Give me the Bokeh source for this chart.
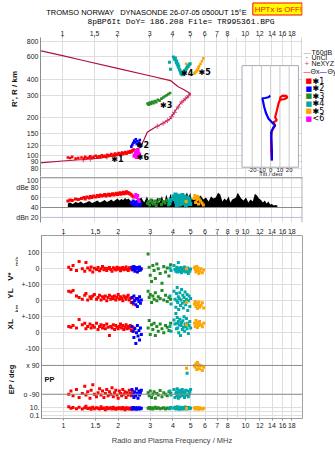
import math
from bokeh.plotting import figure
from bokeh.models import (Range1d, LogScale, LinearScale, FixedTicker, LogAxis, Label, Span)
from bokeh.layouts import column, row
from bokeh.embed import file_html
from bokeh.resources import INLINE
from bokeh.core.properties import value

# ---------------- ticks ----------------
freq_ticks_outer = [1, 1.5, 2, 3, 4, 5, 6, 7, 8, 10, 12, 14, 16, 18]
freq_ticks_inner = [1, 1.5, 2, 3, 4, 5, 6, 7, 8, 9, 10, 12, 14, 16, 18]
height_ticks = [80, 90, 100, 120, 150, 200, 300, 400, 600, 800]
amp_ticks = [20, 40, 60, 80, 100]
amp_labels = ["dBn 20", "40", "60", "dBe 80", "100"]
tilt_ticks = [-20, -10, 0, 10, 20]
vel_ticks = [100, 0, -100]
vel_labels = ["100", "0", "+-100"]
yl_ticks = [0, -100]
yl_labels = ["0", "+-100"]
xl_ticks = [0, -100]
xl_labels = ["0", "-100"]
pp_ticks = [90, -90]
pp_labels = ["x 90", "o -90"]
ep_ticks = [10, 1, 0.1]
ep_labels = ["10.", "", "0.1"]

# ---------------- electron density profile ----------------
profile_f = [0.75, 1.0, 1.3, 1.6, 2.0, 2.46, 2.67, 2.8, 2.91, 3.15, 3.57, 3.9, 4.15, 4.42, 4.81, 5.02,
             4.85, 4.6, 4.3, 3.9, 3.0, 2.0, 1.3, 1.0, 0.75]
profile_h = [88, 91, 93.5, 96, 101, 110, 117, 135, 153, 165, 181, 197, 227, 258, 289, 308,
             318, 333, 350, 391, 427, 488, 563, 614, 673]
nexyz_f = [1.3, 1.42, 1.75, 2.1, 2.4, 3.3, 3.55, 3.75, 3.95, 4.1, 4.3, 4.5, 4.7, 4.9]
nexyz_h = [93, 94.5, 98, 103, 109, 171, 180, 189, 203, 220, 242, 265, 281, 297]

# ---------------- tilt inset ----------------
tiltx_h = [92, 110, 140, 158, 173, 184, 190, 201, 227, 257, 275, 290, 298, 296, 288, 280, 276]
tiltx_deg = [1.3, 0.5, 0.5, 1.3, 4.8, 3.0, 6.7, 4.8, 6.7, 8.4, 10, 10.5, 13, 17, 18, 15, 11]
tilty_h = [92, 110, 153, 168, 173, 184, 196, 214, 242, 272, 283, 285, 289, 298]
tilty_deg = [1.3, 1.3, 0.5, 3.0, 4.8, 1.3, -2.3, -4.8, -7.0, -8.4, -9.0, -6.0, -2.3, -0.5]

# ---------------- echo series ----------------
red_f = [1.07, 1.10, 1.13, 1.18, 1.22, 1.27, 1.31, 1.33, 1.36, 1.40, 1.42, 1.45, 1.48, 1.52, 1.55,
         1.58, 1.61, 1.64, 1.67, 1.70, 1.73, 1.76, 1.79, 1.82, 1.85, 1.88, 1.91, 1.94, 1.97, 2.00,
         2.03, 2.06, 2.09, 2.12, 2.15, 2.18, 2.21, 2.24, 2.27, 2.30, 2.33, 2.36, 2.39, 2.42, 2.45]
red_h = [97, 96, 98, 95, 96, 97, 95, 98, 96, 97, 99, 96, 98, 100, 97, 99, 98, 101, 99, 100, 98, 102,
         100, 101, 103, 100, 102, 104, 101, 103, 105, 102, 104, 106, 103, 105, 107, 104, 106, 108,
         106, 109, 107, 110, 112]
red_amp = [53, 55, 54, 57, 56, 58, 60, 57, 61, 59, 62, 60, 63, 61, 64, 62, 65, 63, 64, 66, 63, 65,
           67, 64, 66, 68, 65, 67, 69, 66, 68, 70, 67, 69, 71, 68, 70, 72, 69, 70, 68, 67, 65, 63, 61]
red_v = [10, -5, 20, -10, 45, 0, -15, 40, 5, -8, 12, -20, 3, -5, 8, -12, 0, 15, -6, 4, -10, 2, 8,
         -4, -15, 6, 0, -8, 10, -3, 5, -12, 2, 8, -6, 0, 12, -4, -10, 6, -2, 4, -8, 10, 0]
red_yl = [60, 55, 64, 30, 20, 10, 35, 45, 5, 25, 15, 30, 40, 10, 20, 35, 5, 25, 15, 30, 0, 20, 35,
          10, 25, 15, 30, 5, 20, 40, 10, 25, 15, 0, 30, 20, 10, 25, 35, 5, 15, -10, 20, -20, 5]
red_xl = [40, 35, 45, 30, 83, 50, 60, 25, 40, 55, 30, 45, 35, 60, 20, 40, 50, 30, 45, 25, 55, 35,
          -17, 40, 30, 50, 20, 45, 35, 25, 40, 55, 30, 45, 20, 35, 50, 25, 40, 30, 45, 15, 35, 10, 30]
red_pp = [-90, -70, -100, -60, -110, -85, -40, -95, -75, -115, -65, -30, -90, -105, -80, -55, -95,
          -70, -110, -85, -60, -100, -75, -90, -50, -105, -80, -65, -95, -115, -70, -85, -100, -60,
          -90, -75, -110, -80, -95, -65, -85, -100, -70, -90, -80]
red_ep = [20, 8, 12, 6, 15, 5, 10, 25, 7, 9, 4, 14, 6, 11, 8, 5, 18, 7, 9, 3, 12, 6, 8, 10, 5, 15,
          7, 4, 9, 6, 11, 8, 5, 13, 7, 3, 10, 6, 9, 5, 8, 4, 12, 6, 7]

blue_f = [2.38, 2.41, 2.44, 2.47, 2.50, 2.52, 2.55, 2.57, 2.60, 2.62, 2.65, 2.68]
blue_h = [118, 122, 126, 131, 128, 135, 124, 130, 121, 127, 133, 119]
blue_amp = [50, 47, 53, 45, 51, 48, 44, 52, 46, 49, 45, 47]
blue_v = [10, -5, 15, -15, 0, 8, -20, 5, -10, 12, -8, 0]
blue_yl = [20, -10, 30, 0, -25, 15, -36, 10, -5, 25, -15, 5]
blue_xl = [40, 10, -30, 25, -67, 0, 45, -20, 15, -45, 30, -10]
blue_pp = [-60, -90, -110, -75, -100, -55, -85, -115, -70, -95, -80, -65]
blue_ep = [8, 5, 12, 6, 9, 4, 10, 7, 5, 11, 6, 8]

magenta_f = [2.48, 2.52, 2.55, 2.58, 2.60, 2.63]
magenta_h = [100, 106, 98, 110, 104, 102]
magenta_amp = [62, 66, 60, 64, 56, 52]

green_f = [2.92, 2.96, 3.0, 3.05, 3.1, 3.15, 3.2, 3.26, 3.32, 3.4, 3.48, 3.56, 3.64, 3.72, 3.8, 3.88]
green_h = [258, 252, 262, 256, 266, 260, 270, 264, 276, 272, 282, 288, 294, 300, 306, 312]
green_amp = [48, 52, 45, 55, 50, 47, 53, 44, 51, 56, 46, 52, 49, 54, 45, 50]
green_v = [93, 10, -40, -80, 20, -10, -60, 30, 0, -30, -90, 15, -20, 5, -45, 25]
green_yl = [60, 20, 40, -10, 30, 10, 50, 0, 25, 15, 64, 5, 35, -5, 20, 10]
green_xl = [30, 77, -10, 50, 20, 60, -17, 40, 10, 55, 25, 0, 45, 35, 15, 60]
green_pp = [-80, -100, -70, -110, -90, -75, -115, -85, -95, -67, -105, -80, -90, -100, -75, -85]
green_ep = [8, 12, 6, 10, 5, 9, 14, 7, 11, 6, 8, 10, 5, 9, 7, 12]

teal_f = [3.85, 3.9, 4.05, 4.1, 4.15, 4.18, 4.2, 4.22, 4.25, 4.28, 4.3, 4.33, 4.36, 4.4, 4.43,
          4.46, 4.5, 4.53, 4.56, 4.6, 4.63, 4.66, 4.7, 4.74, 4.78, 4.82, 4.86, 4.9, 4.95, 5.0]
teal_h = [545, 480, 600, 575, 590, 560, 540, 555, 520, 530, 500, 510, 480, 470, 455, 440, 450,
          435, 445, 460, 450, 470, 465, 480, 490, 500, 505, 515, 525, 530]
teal_amp = [48, 55, 62, 58, 66, 52, 60, 45, 64, 57, 50, 63, 55, 46, 61, 58, 53, 65, 48, 59, 62,
            51, 56, 44, 60, 54, 49, 58, 52, 47]
teal_v = [5, -10, 20, -5, -15, 0, 10, -20, -8, 40, -12, 3, -18, -5, 8, -25, -10, 2, -15, -3, 12,
          -8, -20, 0, -12, 5, -30, -6, -16, -2]
teal_yl = [30, -20, 60, 10, -40, 45, 0, 83, -10, 25, -55, 15, 50, -30, 5, 70, -15, 35, -45, 20,
           -5, 55, -25, 10, 40, -60, 0, 30, -35, 15]
teal_xl = [40, 10, 80, 55, 120, 25, 60, 95, 30, 70, 0, 50, 85, -17, 45, 65, 20, 75, 35, 100, 10,
           55, 40, 90, 25, 60, -5, 45, 70, 30]
teal_pp = [-70, -95, -60, -110, -85, -75, -100, -55, -90, -115, -80, -65, -105, -70, -95, -85,
           -60, -100, -75, -90, -110, -80, -65, -95, 41, -70, -105, -90, -75, -60]
teal_ep = [6, 10, 8, 15, 5, 12, 7, 20, 9, 6, 11, 4, 8, 14, 6, 9, 5, 12, 7, 10, 6, 16, 8, 5, 11,
           7, 13, 6, 9, 8]

orange_f = [4.75, 5.25, 5.3, 5.35, 5.4, 5.45, 5.5, 5.55, 5.6, 5.7, 5.8, 5.9]
orange_h = [530, 445, 450, 455, 462, 470, 480, 495, 510, 530, 555, 585]
orange_amp = [52, 58, 64, 50, 60, 55, 62, 47, 57, 53, 49, 45]
orange_v = [0, 10, -5, -20, 15, -10, 5, -30, -15, 0, -25, -8]
orange_yl = [-10, -20, -5, -35, -15, -48, -25, -8, -40, -30, -12, -45]
orange_xl = [50, 60, 40, 77, 55, 33, 65, 45, 70, 50, 38, 60]
orange_pp = [72, 90, 80, 100, 65, 108, 85, 95, 70, 88, 58, 78]
orange_ep = [7, 10, 5, 8, 12, 6, 9, 4, 11, 7, 5, 8]

black_f = [1.07, 1.10, 1.14, 1.18, 1.22, 1.26, 1.30, 1.35, 1.40, 1.45, 1.50, 1.55, 1.60, 1.65,
           1.70, 1.75, 1.80, 1.85, 1.90, 1.95, 2.00, 2.05, 2.10, 2.15, 2.20, 2.25, 2.30, 2.35,
           2.40, 2.50, 2.60, 2.70, 2.80, 2.90, 3.00, 3.10, 3.20, 3.30, 3.40, 3.50, 3.60, 3.70,
           3.80, 3.90, 4.00, 4.20, 4.40, 4.60, 4.80, 4.90, 5.00, 5.10, 5.30, 5.50, 5.70, 5.90,
           6.10, 6.30, 6.50, 6.70, 6.90, 7.10, 7.30, 7.50, 7.70, 7.90, 8.10, 8.30, 8.50, 8.70,
           8.90, 9.10, 9.30, 9.50, 9.80, 10.1, 10.4, 10.7, 11.0, 11.3, 11.6, 11.9, 12.2, 12.5,
           12.8, 13.1, 13.4, 13.7, 14.0, 14.3, 14.6, 15.0]
black_amp = [48, 50, 47, 51, 49, 52, 48, 50, 53, 49, 51, 54, 50, 52, 55, 51, 53, 56, 52, 55,
             58, 54, 57, 55, 59, 56, 58, 54, 52, 48, 55, 60, 50, 62, 48, 58, 45, 60, 50, 63,
             47, 66, 52, 68, 55, 50, 58, 52, 71, 60, 70, 55, 62, 58, 64, 56, 60, 52, 62, 58,
             60, 70, 66, 52, 58, 54, 62, 50, 56, 58, 60, 70, 64, 58, 54, 60, 50, 56, 52, 68,
             64, 58, 55, 50, 54, 48, 52, 46, 47, 44, 45, 44]

trace_marks = ["✱1", "✱2", "✱3", "✱4", "✱5", "✱6"]
trace_mark_f = [1.85, 2.55, 3.42, 4.45, 5.55, 2.55]
trace_mark_h = [93, 121, 250, 448, 455, 97]

legend_names = ["✱1", "✱2", "✱3", "✱4", "✱5", "<6"]

TITLE1 = "TROMSO NORWAY\u00a0\u00a0\u00a0DYNASONDE 26-07-05 0500UT 15°E"
TITLE2 = "8pBP6It DoY= 186.208 File= TR995361.BPG"
WARNING = "HPTx is OFF!"

RED, BLUE, GREEN, TEAL, ORANGE, MAG = "#ff0000", "#0000ff", "#228b22", "#00a8a8", "#ffa500", "#ff00ff"
PROF, PINK = "#b0103c", "#e0407a"
GRID = "#dedede"
DARK = "#8c8c8c"
TICKFONT = "Liberation Sans"
MONO = "Liberation Mono"
X_RANGE = (0.758, 20.59)


def blank(width, height):
    """A figure whose frame is its whole canvas; data units = pixels from the top-left."""
    b = figure(width=width, height=height, x_range=Range1d(0, width), y_range=Range1d(height, 0),
               x_axis_location=None, y_axis_location=None, toolbar_location=None,
               output_backend="svg", min_border=0, min_border_left=0, min_border_right=0,
               min_border_top=0, min_border_bottom=0)
    b.grid.visible = False
    b.outline_line_color = None
    b.background_fill_color = "white"
    b.border_fill_color = "white"
    return b


def txt(b, x, y, text, size="7px", color="#111111", align="left", baseline="middle",
        angle=0.0, font=TICKFONT, style="normal"):
    b.text(x=[x], y=[y], text=[text], text_font_size=size, text_color=color, text_align=align,
           text_baseline=baseline, angle=angle, text_font=value(font), text_font_style=style)


def mk(width, height, left, right, top, bottom, y_type, y_range, x_loc):
    p = figure(width=width, height=height, x_axis_type="log", y_axis_type=y_type,
               x_range=Range1d(*X_RANGE), y_range=y_range, x_axis_location=x_loc,
               toolbar_location=None, output_backend="svg",
               min_border_left=left, min_border_right=right, min_border_top=top,
               min_border_bottom=bottom)
    p.outline_line_color = None
    p.background_fill_color = "white"
    p.border_fill_color = "white"
    p.grid.grid_line_color = GRID
    p.yaxis.major_tick_out = 0
    p.yaxis.major_tick_in = 0
    p.yaxis.minor_tick_line_color = None
    p.yaxis.axis_line_color = DARK
    p.yaxis.major_label_text_font = TICKFONT
    p.yaxis.major_label_text_font_size = "7px"
    p.yaxis.major_label_text_color = "#222222"
    p.yaxis.major_label_standoff = 2
    return p


def style_x(ax, ticks):
    ax.ticker = FixedTicker(ticks=ticks)
    ax.major_label_overrides = {t: ("%g" % t) for t in ticks}
    ax.minor_tick_line_color = None
    ax.major_tick_out = 2
    ax.major_tick_in = 0
    ax.major_tick_line_color = DARK
    ax.axis_line_color = None
    ax.major_label_text_font = TICKFONT
    ax.major_label_text_font_size = "7px"
    ax.major_label_text_color = "#222222"
    ax.major_label_standoff = 0


# ================= title strip (page y 0..26) =================
t0 = blank(335, 26)
txt(t0, 264, 12, TITLE1, size="7.5px", font=TICKFONT, color="black", align="right")
txt(t0, 60, 20.5, TITLE2, size="8px", font=MONO, color="black")
t0.quad(left=271.5, right=334.5, top=2.5, bottom=14.5, fill_color="#ffff00",
        line_color="#ff0000", line_width=1)
txt(t0, 274, 8.5, WARNING, size="7.8px", font=TICKFONT, color="#ff0000")

# ================= panel 1 : heights (page y 26..176) =================
H1 = 150
p1 = mk(282, H1, 20, 0, 11, 0, "log", Range1d(68.7, 854), "above")
style_x(p1.xaxis[0], freq_ticks_outer)
p1.xgrid.ticker = FixedTicker(ticks=freq_ticks_inner)
p1.yaxis.ticker = FixedTicker(ticks=height_ticks)
p1.yaxis.major_label_overrides = {t: str(t) for t in height_ticks}
p1.ygrid.ticker = FixedTicker(ticks=height_ticks)
p1.add_layout(Span(location=20.5, dimension="height", line_color=DARK, line_width=1))

p1.line(profile_f, profile_h, line_color=PROF, line_width=1.2)
p1.scatter(nexyz_f, nexyz_h, marker="cross", size=5, line_color=PINK, line_width=1)

for f, h, c, s in [(red_f, red_h, RED, 2.6), (blue_f, blue_h, BLUE, 2.6), (green_f, green_h, GREEN, 2.6),
                   (teal_f, teal_h, TEAL, 3), (orange_f, orange_h, ORANGE, 2.6), (magenta_f, magenta_h, MAG, 4)]:
    p1.scatter(f, h, marker="square", size=s, fill_color=c, line_color=None)

p1.text(trace_mark_f, trace_mark_h, text=trace_marks, text_font=value("DejaVu Sans"),
        text_font_size="8px", text_color="black", text_baseline="middle", text_font_style="bold")

# tilt inset (own linear x scale, shared height scale)
p1.extra_x_ranges = {"tilt": Range1d(-248.9, 34.4)}
p1.extra_x_scales = {"tilt": LinearScale()}
inset_tilt = (-31, 30)
inset_h = (81.3, 513)
p1.quad(left=inset_tilt[0], right=inset_tilt[1], bottom=inset_h[0], top=inset_h[1],
        x_range_name="tilt", fill_color="white", line_color="#a8a8b8", line_width=1)
p1.segment(x0=tilt_ticks, y0=[inset_h[0]] * 5, x1=tilt_ticks, y1=[inset_h[1]] * 5,
           x_range_name="tilt", line_color="#c8c8c8", line_width=1)
p1.line(tiltx_deg, tiltx_h, x_range_name="tilt", line_color=RED, line_width=2.2)
p1.line(tilty_deg, tilty_h, x_range_name="tilt", line_color=BLUE, line_width=2.2)
p1.text(tilt_ticks, [77.3] * 5, text=[str(t) for t in tilt_ticks], x_range_name="tilt",
        text_font=value(TICKFONT), text_font_size="6px", text_align="center",
        text_baseline="middle", text_color="#222222")
p1.text([0], [72.2], text=["Tilt / deg"], x_range_name="tilt", text_font=value(TICKFONT),
        text_font_size="6px", text_align="center", text_baseline="middle", text_color="#222222")

s1 = blank(20, H1)
txt(s1, 14, 101 - 26, "R', R / km", size="8px", angle=math.pi / 2, style="bold")

l1 = blank(33, H1)
LX, LY = 302, 26
leg_y0 = 42.5
txt(l1, 303 - LX, leg_y0 - LY, "—", size="7px", color="#a0a0a0")
txt(l1, 311 - LX, leg_y0 - LY, "T60dB", size="7px")
txt(l1, 305 - LX, leg_y0 + 5.5 - LY, "·", size="8px", color="black")
txt(l1, 311 - LX, leg_y0 + 5.5 - LY, "UnCl", size="7px")
txt(l1, 304 - LX, leg_y0 + 11.5 - LY, "+", size="8px", color=PINK)
txt(l1, 311 - LX, leg_y0 + 11.5 - LY, "NeXYZ", size="7px")
txt(l1, 303 - LX, leg_y0 + 20.5 - LY, "—", size="7px", color=RED)
txt(l1, 310 - LX, leg_y0 + 20.5 - LY, "Θx", size="7px")
txt(l1, 319 - LX, leg_y0 + 20.5 - LY, "—", size="7px", color=BLUE)
txt(l1, 327 - LX, leg_y0 + 20.5 - LY, "Θy", size="7px")
legend_cols = [RED, BLUE, GREEN, TEAL, ORANGE, MAG]
for i, (c, t) in enumerate(zip(legend_cols, legend_names)):
    yy = 73 + 8.1 * i - LY
    txt(l1, 305 - LX, yy, "■", size="7px", color=c, font="DejaVu Sans")
    txt(l1, 312 - LX, yy, t, size="8px", color="black", font="DejaVu Sans")

# ================= panel 2 : amplitudes (page y 176..225) =================
p2 = mk(335, 49, 40, 33, 0, 3, "linear", Range1d(9.7, 102.6), None)
p2.xgrid.ticker = FixedTicker(ticks=freq_ticks_inner)
p2.yaxis.ticker = FixedTicker(ticks=amp_ticks)
p2.yaxis.major_label_overrides = dict(zip(amp_ticks, amp_labels))
p2.ygrid.ticker = FixedTicker(ticks=amp_ticks)
p2.add_layout(Span(location=20.5, dimension="height", line_color=DARK, line_width=1))
p2.add_layout(Span(location=100, dimension="width", line_color=DARK, line_width=1))
p2.add_layout(Span(location=40, dimension="width", line_color=DARK, line_width=1))
p2.add_layout(Span(location=20, dimension="width", line_color="#b8c0dc", line_width=1))
p2.varea(x=black_f, y1=[40] * len(black_f), y2=black_amp, fill_color="black")
for f, a, c, s in [(red_f, red_amp, RED, 3), (blue_f, blue_amp, BLUE, 3), (green_f, green_amp, GREEN, 3),
                   (teal_f, teal_amp, TEAL, 4), (orange_f, orange_amp, ORANGE, 3), (magenta_f, magenta_amp, MAG, 3)]:
    p2.scatter(f, a, marker="square", size=s, fill_color=c, line_color=None)
p2.line(red_f, red_amp, line_color=RED, line_width=1.5)

# ================= panel 3 : velocities, positions, polarisation (page y 225..451) =================
V0, V1 = -935.6, 208.1


def pos_yl(v):
    return v - 200


def pos_xl(v):
    return v - 400


def pos_pp(v):
    return v - 694


def pos_ep(v):
    return -869 + 24 * (math.log10(v) - 1)


lower_ticks = (list(vel_ticks) + [pos_yl(t) for t in yl_ticks] + [pos_xl(t) for t in xl_ticks]
               + [pos_pp(t) for t in pp_ticks] + [pos_ep(t) for t in ep_ticks])
lower_labels = vel_labels + yl_labels + xl_labels + pp_labels + ep_labels
tick_map = {}
for t, s in zip(lower_ticks, lower_labels):
    tick_map[float(t)] = s
tick_pos = sorted(tick_map.keys())

H3 = 226
p3 = mk(317, H3, 22, 33, 10, 33, "linear", Range1d(V0, V1), None)
p3.outline_line_color = "#a0a0a0"
bottom_ax = LogAxis()
top_ax = LogAxis()
p3.add_layout(bottom_ax, "below")
p3.add_layout(top_ax, "above")
style_x(bottom_ax, freq_ticks_outer)
style_x(top_ax, freq_ticks_inner)
bottom_ax.major_label_standoff = 2
bottom_ax.axis_label = "Radio and Plasma Frequency / MHz"
bottom_ax.axis_label_text_font = TICKFONT
bottom_ax.axis_label_text_font_size = "7.5px"
bottom_ax.axis_label_text_font_style = "normal"
bottom_ax.axis_label_standoff = 5
p3.xgrid.ticker = FixedTicker(ticks=freq_ticks_inner)
p3.yaxis.ticker = FixedTicker(ticks=tick_pos)
p3.yaxis.major_label_overrides = tick_map
p3.ygrid.ticker = FixedTicker(ticks=tick_pos)
for t in pp_ticks:
    p3.add_layout(Span(location=pos_pp(t), dimension="width", line_color=DARK, line_width=1))

p3.extra_y_ranges = {"yl": Range1d(V0 + 200, V1 + 200), "xl": Range1d(V0 + 400, V1 + 400),
                     "pp": Range1d(V0 + 694, V1 + 694),
                     "ep": Range1d(10 ** (1 + (V0 + 869) / 24), 10 ** (1 + (V1 + 869) / 24))}
p3.extra_y_scales = {"yl": LinearScale(), "xl": LinearScale(), "pp": LinearScale(), "ep": LogScale()}

series = [
    (red_f, red_v, red_yl, red_xl, red_pp, red_ep, RED),
    (blue_f, blue_v, blue_yl, blue_xl, blue_pp, blue_ep, BLUE),
    (green_f, green_v, green_yl, green_xl, green_pp, green_ep, GREEN),
    (teal_f, teal_v, teal_yl, teal_xl, teal_pp, teal_ep, TEAL),
    (orange_f, orange_v, orange_yl, orange_xl, orange_pp, orange_ep, ORANGE),
]
for f, v, yl, xl, pp, ep, c in series:
    kw = dict(marker="square", size=3, fill_color=c, line_color=None)
    p3.scatter(f, v, **kw)
    p3.scatter(f, yl, y_range_name="yl", **kw)
    p3.scatter(f, xl, y_range_name="xl", **kw)
    p3.scatter(f, pp, y_range_name="pp", **kw)
    p3.scatter(f, ep, y_range_name="ep", **kw)

# "PP" sits just inside the frame
p3.add_layout(Label(x=3, y=418 - 379, x_units="screen", y_units="screen", text="PP",
                    text_font_size="7.5px", text_font=TICKFONT, text_font_style="bold",
                    text_baseline="middle", text_color="#111111"))

s3 = blank(18, H3)
Y3 = 225
txt(s3, 10, 281 - Y3, "V*", size="8px", angle=math.pi / 2, style="bold")
txt(s3, 16, 263 - Y3, "m/s", size="6px", angle=math.pi / 2)
txt(s3, 10, 303 - Y3, "YL", size="8px", angle=math.pi / 2, style="bold")
txt(s3, 10, 341 - Y3, "XL", size="8px", angle=math.pi / 2, style="bold")
txt(s3, 16, 320 - Y3, "km", size="6px", angle=math.pi / 2)
txt(s3, 11, 421 - Y3, "EP / deg", size="7.5px", angle=math.pi / 2, style="bold")

layout = column(t0, row(s1, p1, l1, spacing=0), p2, row(s3, p3, spacing=0), spacing=0)
open("out.html", "w").write(file_html(layout, INLINE))
